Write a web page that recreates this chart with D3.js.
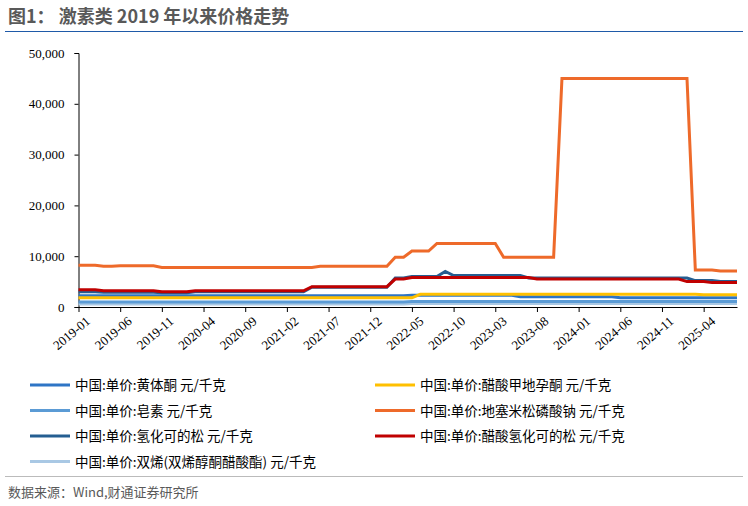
<!DOCTYPE html><html><head><meta charset="utf-8">
<script src="https://cdn.jsdelivr.net/npm/d3@7"></script>
<style>body{margin:0;background:#fff;font-family:"Noto Sans CJK SC",sans-serif}.ax text{font-family:"Liberation Serif","DejaVu Serif",serif !important}</style></head><body>
<svg id="c" width="748" height="506"></svg>
<script>
// months 2019-01 .. 2025-08 (80 points); run-length [value, months]
const startYear = 2019, nMonths = 80;
const tickLabels = ["2019-01","2019-06","2019-11","2020-04","2020-09","2021-02","2021-07","2021-12","2022-05","2022-10","2023-03","2023-08","2024-01","2024-06","2024-11","2025-04"];
const yTicks = [0,10000,20000,30000,40000,50000];
const names = ["中国:单价:黄体酮 元/千克","中国:单价:醋酸甲地孕酮 元/千克","中国:单价:皂素 元/千克","中国:单价:地塞米松磷酸钠 元/千克","中国:单价:氢化可的松 元/千克","中国:单价:醋酸氢化可的松 元/千克","中国:单价:双烯(双烯醇酮醋酸酯) 元/千克"];
const colors = ["#2e75c5","#ffc000","#5b9bd5","#ee6a2a","#255e91","#c00000","#a9c8e4"];
const runs = [
 [[2200,40],[2300,13],[2000,12],[1800,15]],
 [[1800,41],[2500,34],[2400,5]],
 [[1000,40],[1100,40]],
 [[8200,3],[8000,2],[8100,5],[7800,19],[8000,9],[9800,2],[11000,3],[12500,8],[9800,7],[45000,16],[7300,3],[7100,3]],
 [[3000,3],[2900,7],[2800,4],[3000,14],[3900,10],[5700,2],[6000,4],[7000,1],[6200,9],[5700,20],[5200,3],[5000,3]],
 [[3400,3],[3200,7],[3000,4],[3200,14],[4000,10],[5500,2],[5800,15],[5500,18],[5000,3],[4800,4]],
 [[600,40],[700,40]]
];
const series = runs.map(r=>r.flatMap(([v,n])=>Array(n).fill(v)));
const svg = d3.select("#c");
svg.append("text").attr("x",8).attr("y",23).attr("font-size",18).attr("font-weight","bold").attr("fill","#595959").text("图1：  激素类 2019 年以来价格走势");
svg.append("line").attr("x1",5).attr("x2",743).attr("y1",31.5).attr("y2",31.5).attr("stroke","#1f5aa8").attr("stroke-width",1.2);
const x = d3.scaleLinear().domain([0,79]).range([78.5,737]);
const y = d3.scaleLinear().domain([0,50000]).range([307,53]);
const ya = svg.append("g").attr("class","ax").attr("transform","translate(78.5,0)").call(d3.axisLeft(y).tickValues(yTicks).tickSize(4).tickPadding(10).tickFormat(d3.format(",")));
ya.selectAll("text").attr("font-size",13).attr("fill","#000");
ya.select(".domain").attr("stroke","#000");
const tv = tickLabels.map((_,i)=>i*5);
const xa = svg.append("g").attr("class","ax").attr("transform","translate(0,307)").call(d3.axisBottom(x).tickValues(tv).tickSize(5).tickFormat((d,i)=>tickLabels[i]).tickSizeOuter(0));
xa.selectAll("text").attr("font-size",13).attr("fill","#000").attr("text-anchor","end").attr("transform","translate(4,6) rotate(-40)").attr("dy","0.35em");
xa.select(".domain").attr("stroke","#000");
const line = d3.line().x((d,i)=>x(i)).y(d=>y(d));
const order=[6,2,0,1,4,5,3];
order.forEach(k=>svg.append("path").datum(series[k]).attr("d",line).attr("fill","none").attr("stroke",colors[k]).attr("stroke-width",3));
const lg = svg.append("g");
names.forEach((n,i)=>{
 const col=i%2,row=Math.floor(i/2);
 const lx=col?375:30, ly=385+row*25.5;
 lg.append("line").attr("x1",lx).attr("x2",lx+40).attr("y1",ly).attr("y2",ly).attr("stroke",colors[i]).attr("stroke-width",3);
 lg.append("text").attr("x",lx+45).attr("y",ly+5).attr("font-size",13.5).attr("fill","#000").text(n);
});
svg.append("line").attr("x1",5).attr("x2",743).attr("y1",476.5).attr("y2",476.5).attr("stroke","#aaa").attr("stroke-width",0.8);
svg.append("text").attr("x",8).attr("y",497).attr("font-size",13).attr("fill","#595959").text("数据来源：Wind,财通证券研究所");
</script></body></html>
